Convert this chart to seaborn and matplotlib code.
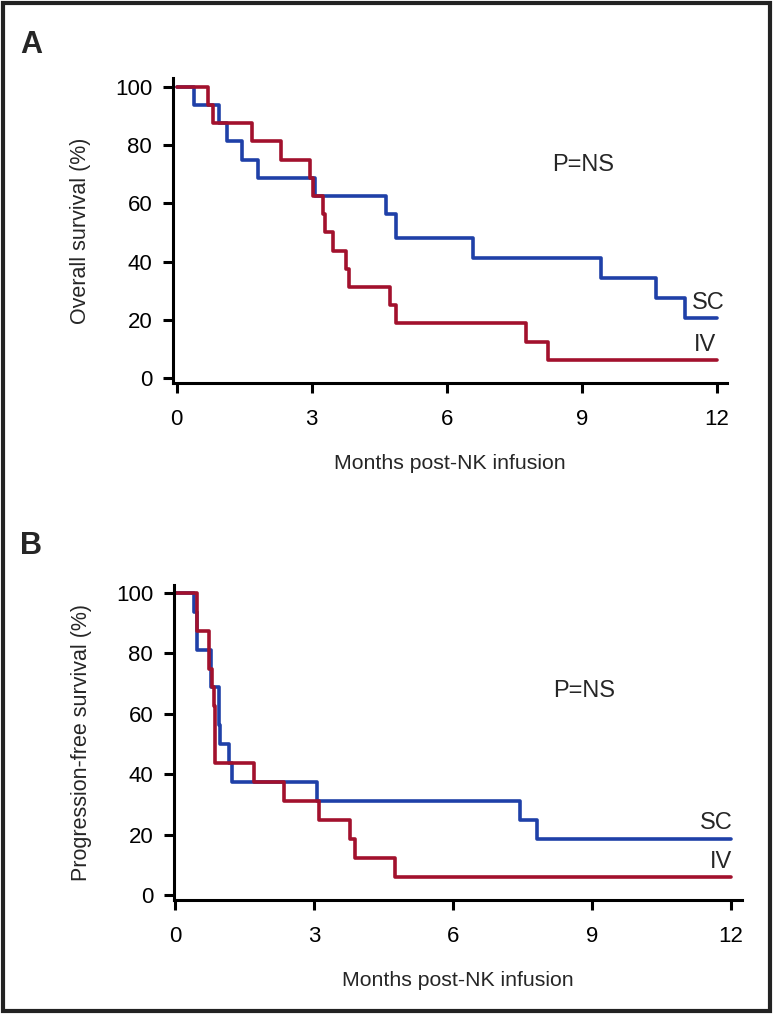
import numpy as np
import pandas as pd
import matplotlib
matplotlib.use('Agg')
import matplotlib.pyplot as plt
import seaborn as sns
from matplotlib.patches import Rectangle

# Panel A: overall survival (step starts, % surviving from that month on)
os_sc_months = [0, 0.38, 0.95, 1.13, 1.46, 1.80, 3.08, 4.64, 4.88, 6.58, 9.42, 10.64, 11.29, 12.0]
os_sc_pct = [100, 93.75, 87.5, 81.25, 75, 68.75, 62.5, 56.25, 48.2, 41.3, 34.4, 27.6, 20.7, 20.7]
os_iv_months = [0, 0.70, 0.81, 1.67, 2.32, 2.96, 3.02, 3.25, 3.29, 3.47, 3.75, 3.82, 4.73, 4.88, 7.75, 8.25, 12.0]
os_iv_pct = [100, 93.75, 87.5, 81.25, 75, 68.75, 62.5, 56.25, 50, 43.75, 37.5, 31.25, 25, 18.75, 12.5, 6.25, 6.25]

# Panel B: progression-free survival
pfs_sc_months = [0, 0.41, 0.47, 0.76, 0.94, 0.97, 1.15, 1.22, 3.06, 7.45, 7.81, 12.0]
pfs_sc_pct = [100, 93.75, 81.25, 68.75, 56.25, 50, 43.75, 37.5, 31.25, 25, 18.75, 18.75]
pfs_iv_months = [0, 0.47, 0.73, 0.79, 0.83, 0.86, 1.69, 2.34, 3.11, 3.78, 3.87, 4.75, 12.0]
pfs_iv_pct = [100, 87.5, 75, 68.75, 62.5, 43.75, 37.5, 31.25, 25, 18.75, 12.5, 6.25, 6.25]

arm_colors = {'SC': '#1F40A8', 'IV': '#A2112D'}
x_ticks = [0, 3, 6, 9, 12]
y_ticks = [0, 20, 40, 60, 80, 100]

sns.set_theme(style='ticks')
plt.rcParams['font.family'] = ['Liberation Sans', 'DejaVu Sans']

fig = plt.figure(figsize=(7.73, 10.14), dpi=100)
ax_a = fig.add_axes([173 / 773, 1 - 383 / 1014, 554 / 773, 305 / 1014])
ax_b = fig.add_axes([174 / 773, 1 - 900 / 1014, 568 / 773, 315 / 1014])


def draw_panel(ax, sc_t, sc_s, iv_t, iv_s, ylabel, xlim, ylim):
    df = pd.concat([
        pd.DataFrame({'month': sc_t, 'pct': sc_s, 'arm': 'SC'}),
        pd.DataFrame({'month': iv_t, 'pct': iv_s, 'arm': 'IV'}),
    ])
    sns.lineplot(data=df, x='month', y='pct', hue='arm', palette=arm_colors,
                 estimator=None, sort=False, drawstyle='steps-post',
                 linewidth=2.6, legend=False, ax=ax)
    ax.set_xlim(*xlim)
    ax.set_ylim(*ylim)
    ax.set_xticks(x_ticks)
    ax.set_yticks(y_ticks)
    ax.tick_params(axis='both', length=7, width=2.2, color='black',
                   labelsize=16, labelcolor='black')
    ax.tick_params(axis='x', pad=12)
    ax.tick_params(axis='y', pad=8)
    for side in ['left', 'bottom']:
        ax.spines[side].set_linewidth(2.2)
        ax.spines[side].set_color('black')
    sns.despine(ax=ax)
    ax.set_xlabel('Months post-NK infusion', fontsize=15.3, labelpad=17)
    ax.set_ylabel(ylabel, fontsize=15.5, labelpad=17)
    ax.set_facecolor('white')


draw_panel(ax_a, os_sc_months, os_sc_pct, os_iv_months, os_iv_pct,
           'Overall survival (%)', (-0.08, 12.22), (-1.7, 103))
draw_panel(ax_b, pfs_sc_months, pfs_sc_pct, pfs_iv_months, pfs_iv_pct,
           'Progression-free survival (%)', (-0.03, 12.24), (-1.5, 102.6))

# annotations
ax_a.text(9.03, 73, 'P=NS', fontsize=17, ha='center', va='center')
ax_a.text(11.45, 25.6, 'SC', fontsize=17, ha='left', va='center')
ax_a.text(11.97, 11.3, 'IV', fontsize=17, ha='right', va='center')
ax_b.text(8.83, 67.6, 'P=NS', fontsize=17, ha='center', va='center')
ax_b.text(12.03, 24.1, 'SC', fontsize=17, ha='right', va='center')
ax_b.text(12.03, 10.9, 'IV', fontsize=17, ha='right', va='center')

# panel letters
fig.text(20 / 773, 1 - 53 / 1014, 'A', fontsize=22, fontweight='bold')
fig.text(20 / 773, 1 - 554 / 1014, 'B', fontsize=22, fontweight='bold')

# outer frame
fig.patches.append(Rectangle((3 / 773, 3 / 1014), 767 / 773, 1008 / 1014,
                             transform=fig.transFigure, fill=False,
                             edgecolor='#222222', linewidth=3))

fig.savefig('out.png', dpi=100, facecolor='white')
